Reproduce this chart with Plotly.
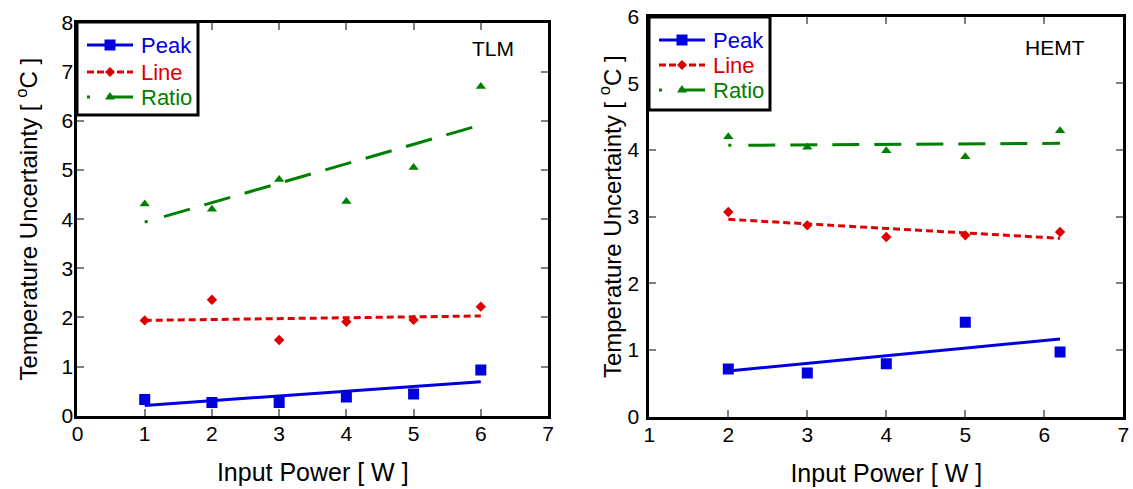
import plotly.graph_objects as go

# ---------------- data ----------------
# TLM panel
tlm_power = [1, 2, 3, 4, 5, 6]
tlm_peak = [0.33, 0.27, 0.27, 0.38, 0.44, 0.93]
tlm_line = [1.94, 2.36, 1.54, 1.91, 1.95, 2.22]
tlm_ratio = [4.31, 4.20, 4.81, 4.36, 5.05, 6.70]
tlm_fit_power = [1, 6]
tlm_peak_fit = [0.21, 0.69]
tlm_line_fit = [1.94, 2.03]
tlm_ratio_fit = [3.94, 5.92]

# HEMT panel
hemt_power = [2, 3, 4, 5, 6.2]
hemt_peak = [0.715, 0.655, 0.795, 1.415, 0.97]
hemt_line = [3.07, 2.87, 2.695, 2.72, 2.77]
hemt_ratio = [4.20, 4.04, 3.99, 3.90, 4.29]
hemt_fit_power = [2, 6.2]
hemt_peak_fit = [0.685, 1.165]
hemt_line_fit = [2.96, 2.675]
hemt_ratio_fit = [4.07, 4.10]

series_names = ["Peak", "Line", "Ratio"]
panel_labels = ["TLM", "HEMT"]
tlm_x_ticks = [0, 1, 2, 3, 4, 5, 6, 7]
tlm_y_ticks = [0, 1, 2, 3, 4, 5, 6, 7, 8]
hemt_x_ticks = [1, 2, 3, 4, 5, 6, 7]
hemt_y_ticks = [0, 1, 2, 3, 4, 5, 6]

# ---------------- styles ----------------
W, H = 1133, 489
BLUE = "#0000DD"
RED = "#DD0000"
GREEN = "#008000"
FONT = "Arial, Liberation Sans, sans-serif"
colors = [BLUE, RED, GREEN]
symbols = ["square", "diamond", "triangle-up"]
msizes = [11, 8, 9]
ratio_dash = "3px,17px" + ",27px,15px" * 30
dashes = ["solid", "7px,4px", ratio_dash]
legend_dashes = ["solid", "7px,3px", ratio_dash]

fig = go.Figure()

panels = [
    dict(xa="x", ya="y", px=tlm_power, fx=tlm_fit_power,
         ys=[tlm_peak, tlm_line, tlm_ratio], fits=[tlm_peak_fit, tlm_line_fit, tlm_ratio_fit]),
    dict(xa="x2", ya="y2", px=hemt_power, fx=hemt_fit_power,
         ys=[hemt_peak, hemt_line, hemt_ratio], fits=[hemt_peak_fit, hemt_line_fit, hemt_ratio_fit]),
]

for p in panels:
    for i, name in enumerate(series_names):
        fig.add_trace(go.Scatter(
            x=p["fx"], y=p["fits"][i], mode="lines", xaxis=p["xa"], yaxis=p["ya"],
            line=dict(color=colors[i], width=3, dash=dashes[i]),
            name=name + " fit", showlegend=False, hoverinfo="skip"))
        fig.add_trace(go.Scatter(
            x=p["px"], y=p["ys"][i], mode="markers", xaxis=p["xa"], yaxis=p["ya"],
            marker=dict(color=colors[i], symbol=symbols[i], size=msizes[i], line=dict(width=0)),
            name=name, showlegend=False))

# ---------------- boxed legends (drawn as layout decoration) ----------------
def X(px):
    return px / W


def Y(py):
    return 1 - py / H


legend_layout = [
    dict(box=(77, 22, 198, 115), line_x=(87, 133), mark_x=110, text_x=139, ys=[45, 72, 97]),
    dict(box=(649, 17, 770, 110), line_x=(659, 705), mark_x=682, text_x=711, ys=[40, 65, 90]),
]

shapes = []
annotations = []
for lg in legend_layout:
    x0, y0, x1, y1 = lg["box"]
    shapes.append(dict(type="rect", xref="paper", yref="paper", x0=X(x0), x1=X(x1), y0=Y(y1), y1=Y(y0),
                       line=dict(color="black", width=3), fillcolor="white", layer="above"))
    for i, name in enumerate(series_names):
        cy = lg["ys"][i]
        shapes.append(dict(type="line", xref="paper", yref="paper",
                           x0=X(lg["line_x"][0]), x1=X(lg["line_x"][1]), y0=Y(cy), y1=Y(cy),
                           line=dict(color=colors[i], width=3, dash=legend_dashes[i]), layer="above"))
        mx = lg["mark_x"]
        if symbols[i] == "square":
            h = 5.5
            path = "M%f,%f L%f,%f L%f,%f L%f,%f Z" % (
                X(mx - h), Y(cy - h), X(mx + h), Y(cy - h), X(mx + h), Y(cy + h), X(mx - h), Y(cy + h))
        elif symbols[i] == "diamond":
            h = 5
            path = "M%f,%f L%f,%f L%f,%f L%f,%f Z" % (
                X(mx), Y(cy - h), X(mx + h), Y(cy), X(mx), Y(cy + h), X(mx - h), Y(cy))
        else:
            path = "M%f,%f L%f,%f L%f,%f Z" % (
                X(mx), Y(cy - 5), X(mx + 5), Y(cy + 2.5), X(mx - 5), Y(cy + 2.5))
        shapes.append(dict(type="path", xref="paper", yref="paper", path=path,
                           fillcolor=colors[i], line=dict(width=0), layer="above"))
        annotations.append(dict(text=name, x=X(lg["text_x"]), y=Y(cy), xref="paper", yref="paper",
                                xanchor="left", yanchor="middle", showarrow=False,
                                font=dict(family=FONT, size=22, color=colors[i])))

annotations.append(dict(text=panel_labels[0], x=X(493), y=Y(49), xref="paper", yref="paper",
                        xanchor="center", yanchor="middle",
                        showarrow=False, font=dict(family=FONT, size=21, color="black")))
annotations.append(dict(text=panel_labels[1], x=X(1055), y=Y(47), xref="paper", yref="paper",
                        xanchor="center", yanchor="middle",
                        showarrow=False, font=dict(family=FONT, size=21, color="black")))

axis_common = dict(
    showline=True, linecolor="black", linewidth=3, mirror="ticks",
    ticks="inside", tickcolor="#808080", ticklen=7, tickwidth=1.5,
    showgrid=False, zeroline=False, automargin=False, ticklabeloverflow="allow",
    tickfont=dict(family=FONT, size=21, color="black"),
)
xtitle_font = dict(family=FONT, size=25, color="black")
ytitle_font = dict(family=FONT, size=24, color="black")

fig.update_layout(
    width=W, height=H,
    margin=dict(l=0, r=0, t=0, b=0),
    paper_bgcolor="white", plot_bgcolor="white",
    font=dict(family=FONT, color="black"),
    showlegend=False,
    xaxis=dict(domain=[0.0684, 0.4837], range=[0, 7], tickvals=tlm_x_ticks, anchor="y",
               ticklabelstandoff=-3,
               title=dict(text="Input Power [ W ]", standoff=20, font=xtitle_font), **axis_common),
    yaxis=dict(domain=[0.1499, 0.9536], range=[0, 8], tickvals=tlm_y_ticks, anchor="x",
               ticklabelstandoff=-3,
               title=dict(text="Temperature Uncertainty [ <sup>o</sup>C ]", standoff=18, font=ytitle_font),
               **axis_common),
    xaxis2=dict(domain=[0.5731, 0.9914], range=[1, 7], tickvals=hemt_x_ticks, anchor="y2",
                ticklabelstandoff=-3,
                title=dict(text="Input Power [ W ]", standoff=20, font=xtitle_font), **axis_common),
    yaxis2=dict(domain=[0.1479, 0.9659], range=[0, 6], tickvals=hemt_y_ticks, anchor="x2",
                ticklabelstandoff=3,
                title=dict(text="Temperature Uncertainty [ <sup>o</sup>C ]", standoff=0, font=ytitle_font),
                **axis_common),
    shapes=shapes,
    annotations=annotations,
)

fig.write_html("out.html", config={"displayModeBar": False},
               post_script="document.body.style.margin='0';document.body.style.overflow='hidden';")
